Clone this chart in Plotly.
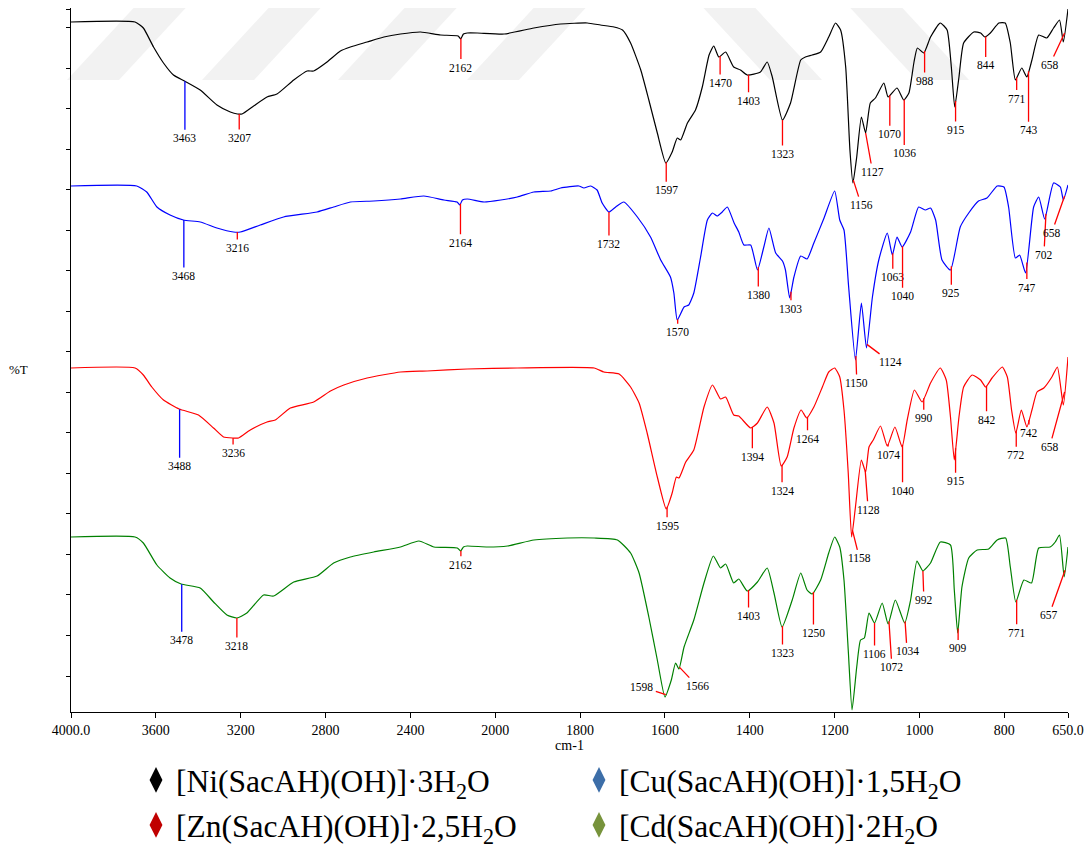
import numpy as np
import plotly.graph_objects as go

# ---------------- data: (wavenumber cm-1, offset %T in arbitrary units) ----------------
ni_spec = [(4000,690),(3698,690),(3659,684),(3611,665),(3564,649),(3517,637),(3465,631),(3391,622),
           (3312,607),(3249,600),(3215,598),(3194,598),(3139,606),(3076,615),(3029,618),(2950,632),
           (2887,641),(2856,641),(2793,650),(2730,661),(2683,665),(2604,670),(2525,675),(2447,678),
           (2352,680),(2258,677),(2175,676),(2163,673),(2150,678),(2132,679),(2085,679),(1979,678),
           (1909,684),(1846,688),(1783,689),(1752,687),(1720,685),(1700,682),(1681,669),(1657,642),
           (1638,612),(1618,579),(1598,549),(1583,560),(1571,574),(1563,572),(1547,589),(1528,602),
           (1512,625),(1496,657),(1485,666),(1473,655),(1457,660),(1438,645),(1422,642),(1406,637),
           (1375,640),(1359,650),(1347,635),(1323,592),(1304,609),(1280,652),(1269,655),(1253,657),
           (1233,660),(1214,675),(1198,689),(1186,682),(1174,645),(1164,562),(1157,529),(1148,555),
           (1137,595),(1127,579),(1116,609),(1104,614),(1084,629),(1074,615),(1053,624),(1037,612),
           (1025,619),(1013,650),(1005,664),(990,659),(974,675),(951,689),(935,682),(925,645),
           (917,605),(907,635),(896,669),(872,680),(856,679),(846,675),(833,679),(813,689),
           (798,689),(786,669),(774,632),(759,644),(747,635),(735,652),(719,677),(700,674),
           (684,684),(670,692),(661,670),(650,703)]

cu_spec = [(4000,526),(3690,526),(3643,520),(3595,505),(3533,497),(3470,492),(3391,490),(3312,484),
           (3234,480),(3202,480),(3108,487),(2998,495),(2840,500),(2762,505),(2683,510),(2573,511),
           (2447,513),(2337,516),(2242,512),(2180,510),(2167,507),(2155,512),(2132,513),(2053,510),
           (1987,512),(1948,515),(1909,520),(1869,521),(1846,524),(1803,526),(1791,524),(1775,526),
           (1760,522),(1748,509),(1732,500),(1716,505),(1697,510),(1665,495),(1634,475),(1610,452),
           (1587,435),(1579,419),(1571,392),(1555,405),(1544,407),(1532,419),(1516,455),(1500,492),
           (1488,499),(1477,496),(1465,500),(1453,505),(1437,489),(1426,480),(1414,467),(1398,467),
           (1382,442),(1367,465),(1355,484),(1339,459),(1323,451),(1316,442),(1306,414),(1296,435),
           (1280,456),(1265,453),(1249,469),(1225,494),(1200,521),(1188,492),(1178,482),(1167,425),
           (1151,352),(1137,409),(1125,364),(1111,415),(1096,452),(1076,479),(1064,457),(1053,475),
           (1041,465),(1021,480),(1002,505),(986,502),(974,504),(962,492),(947,452),(927,442),
           (904,485),(884,499),(861,511),(841,514),(817,526),(801,525),(790,505),(774,454),
           (764,457),(750,439),(731,505),(719,515),(705,493),(684,529),(668,525),(661,512),(650,527)]

zn_spec = [(4000,344),(3698,344),(3659,337),(3619,325),(3564,312),(3490,303),(3399,297),(3328,284),
           (3281,275),(3236,274),(3210,274),(3155,282),(3076,290),(3037,292),(2966,304),(2856,310),
           (2777,321),(2714,327),(2604,334),(2447,340),(2321,341),(2132,343),(1948,344),(1767,344),
           (1744,340),(1708,338),(1681,325),(1661,309),(1642,279),(1618,235),(1597,203),(1583,219),
           (1573,235),(1567,234),(1551,250),(1532,262),(1508,305),(1488,327),(1469,313),(1457,315),
           (1438,297),(1426,296),(1398,284),(1382,289),(1359,305),(1343,289),(1326,246),(1312,255),
           (1296,284),(1279,302),(1266,294),(1249,305),(1229,325),(1214,340),(1200,344),(1188,335),
           (1178,302),(1168,239),(1160,175),(1151,205),(1137,252),(1127,240),(1119,265),(1109,272),
           (1092,286),(1076,266),(1058,285),(1041,265),(1029,292),(1012,322),(994,310),(974,329),
           (951,344),(937,332),(927,295),(918,252),(907,295),(896,325),(876,337),(856,332),
           (844,325),(829,334),(805,345),(793,335),(783,302),(773,279),(760,302),(747,285),
           (735,302),(723,320),(707,324),(688,335),(675,345),(661,307),(650,355)]

cd_spec = [(4000,175),(3698,175),(3659,169),(3595,147),(3533,134),(3481,128),(3391,124),(3328,110),
           (3265,97),(3218,94),(3171,99),(3092,117),(3045,116),(2950,130),(2840,136),(2762,149),
           (2683,155),(2573,160),(2447,165),(2360,171),(2289,165),(2179,164),(2163,161),(2150,165),
           (2132,166),(2037,165),(1971,166),(1909,172),(1830,174),(1767,174),(1712,172),(1681,159),
           (1661,139),(1638,95),(1618,52),(1600,15),(1585,32),(1575,49),(1567,43),(1555,65),
           (1532,92),(1508,129),(1486,156),(1469,144),(1457,148),(1438,129),(1426,133),(1406,121),
           (1382,130),(1359,144),(1343,119),(1324,85),(1300,112),(1280,139),(1265,122),(1253,118),
           (1233,132),(1214,159),(1200,175),(1188,165),(1178,132),(1168,62),(1159,2),(1148,45),
           (1139,72),(1130,74),(1119,99),(1106,89),(1088,109),(1074,88),(1057,112),(1035,89),
           (1021,112),(1006,151),(992,141),(974,149),(951,170),(927,167),(918,122),(910,79),
           (900,125),(884,154),(864,162),(837,163),(817,172),(797,174),(786,145),(773,110),
           (754,132),(736,129),(719,164),(692,165),(680,170),(670,177),(659,135),(650,165)]

# labelled peaks (cm-1)
ni_peaks = [3463, 3207, 2162, 1597, 1470, 1403, 1323, 1156, 1127, 1070, 1036, 988, 915, 844, 771, 743, 658]
cu_peaks = [3468, 3216, 2164, 1732, 1570, 1380, 1303, 1150, 1124, 1063, 1040, 925, 747, 702, 658]
zn_peaks = [3488, 3236, 1595, 1394, 1324, 1264, 1158, 1128, 1074, 1040, 990, 915, 842, 772, 742, 658]
cd_peaks = [3478, 3218, 2162, 1598, 1566, 1403, 1323, 1250, 1106, 1072, 1034, 992, 909, 771, 657]

names = ["[Ni(SacAH)(OH)]·3H<sub>2</sub>O", "[Cu(SacAH)(OH)]·1,5H<sub>2</sub>O",
         "[Zn(SacAH)(OH)]·2,5H<sub>2</sub>O", "[Cd(SacAH)(OH)]·2H<sub>2</sub>O"]

x_ticks = [4000, 3600, 3200, 2800, 2400, 2000, 1800, 1600, 1400, 1200, 1000, 800, 650]
x_ticktext = ["4000.0", "3600", "3200", "2800", "2400", "2000", "1800", "1600", "1400",
              "1200", "1000", "800", "650.0"]

# ---------------- styling / layout (label offsets in px: dx, dy, line colour) ----------------
BLUE_L, RED_L = "#0000FF", "#FF0000"
label_style = {
    "ni": {3463: (0, 57, BLUE_L), 3207: (0, 24, RED_L), 2162: (0, 29, RED_L), 1597: (0, 28, RED_L),
           1470: (0, 27, RED_L), 1403: (0, 26, RED_L), 1323: (0, 34, RED_L), 1156: (8, 25, RED_L),
           1127: (7, 39, RED_L), 1070: (0, 39, RED_L), 1036: (0, 54, RED_L), 988: (0, 30, RED_L),
           915: (0, 29, RED_L), 844: (0, 29, RED_L), 771: (0, 21, RED_L), 743: (0, 59, RED_L),
           658: (-15, 32, RED_L)},
    "cu": {3468: (0, 56, BLUE_L), 3216: (0, 16, RED_L), 2164: (0, 39, RED_L), 1732: (0, 32, RED_L),
           1570: (0, 13, RED_L), 1380: (0, 28, RED_L), 1303: (0, 17, RED_L), 1150: (1, 27, RED_L),
           1124: (24, 18, RED_L), 1063: (0, 24, RED_L), 1040: (0, 50, RED_L), 925: (0, 27, RED_L),
           747: (0, 25, RED_L), 702: (-2, 41, RED_L), 658: (-13, 37, RED_L)},
    "zn": {3488: (0, 57, BLUE_L), 3236: (0, 15, RED_L), 1595: (0, 19, RED_L), 1394: (0, 30, RED_L),
           1324: (0, 26, RED_L), 1264: (0, 22, RED_L), 1158: (7, 28, RED_L), 1128: (3, 39, RED_L),
           1074: (0, 11, RED_L), 1040: (0, 46, RED_L), 990: (0, 20, RED_L), 915: (0, 33, RED_L),
           842: (0, 34, RED_L), 772: (0, 24, RED_L), 742: (0, 13, RED_L), 658: (-15, 55, RED_L)},
    "cd": {3478: (0, 56, BLUE_L), 3218: (0, 28, RED_L), 2162: (0, 14, RED_L), 1598: (-24, -8, RED_L),
           1566: (18, 19, RED_L), 1403: (0, 26, RED_L), 1323: (0, 27, RED_L), 1250: (0, 41, RED_L),
           1106: (0, 31, RED_L), 1072: (3, 46, RED_L), 1034: (2, 30, RED_L), 992: (1, 29, RED_L),
           909: (0, 20, RED_L), 771: (0, 33, RED_L), 657: (-16, 45, RED_L)},
}

line_colors = ["#000000", "#0000FF", "#FF0000", "#008000"]
legend_colors = ["#000000", "#3D6EA8", "#C00000", "#77933C"]
legend_ids = ["legend", "legend", "legend2", "legend2"]
SERIF = "Liberation Serif, Times New Roman, serif"

FIG_W, FIG_H = 1084, 841   # page body keeps an 8 px margin inside the 1092x849 window
M_L, M_R, M_T, M_B = 63, 24, 0, 137
PLOT_W, PLOT_H = FIG_W - M_L - M_R, FIG_H - M_T - M_B

# faint diagonal watermark bands in the top strip (page pixels: x at bottom edge, direction)
WM_BANDS = [(67, 1), (202, 1), (338, 1), (467, 1), (770, -1), (917, -1)]
WM_WIDTH, WM_SHIFT, WM_BOTTOM = 52, 74, 80


def to_pos(w):
    """Piece-wise linear wavenumber scale (2 cm-1 per unit above 2000, 1 cm-1 per unit below)."""
    w = np.asarray(w, dtype=float)
    return np.where(w >= 2000, (4000 - w) / 2.0, 1000 + (2000 - w))


def page_to_paper(px, py):
    return (px - 8 - M_L) / PLOT_W, 1 - (py - 8 - M_T) / PLOT_H


fig = go.Figure()
series = [("ni", ni_spec, ni_peaks), ("cu", cu_spec, cu_peaks),
          ("zn", zn_spec, zn_peaks), ("cd", cd_spec, cd_peaks)]

shapes = []
for x0, d in WM_BANDS:
    pts = [(x0, WM_BOTTOM), (x0 + WM_WIDTH, WM_BOTTOM),
           (x0 + WM_WIDTH + d * WM_SHIFT, 0), (x0 + d * WM_SHIFT, 0)]
    pp = [page_to_paper(a, b) for a, b in pts]
    path = "M " + " L ".join(f"{a:.4f},{b:.4f}" for a, b in pp) + " Z"
    shapes.append(dict(type="path", path=path, xref="paper", yref="paper",
                       fillcolor="#F2F2F2", line=dict(width=0), layer="below"))

annotations = []
for i, (key, spec, peaks) in enumerate(series):
    wn = np.array([p[0] for p in spec], dtype=float)
    tr = np.array([p[1] for p in spec], dtype=float)
    fig.add_trace(go.Scatter(x=to_pos(wn), y=tr, mode="lines",
                             line=dict(color=line_colors[i], width=1.2, shape="spline", smoothing=0.5),
                             showlegend=False, hoverinfo="skip"))
    for pk in peaks:
        dx, dy, col = label_style[key][pk]
        yv = float(np.interp(pk, wn[::-1], tr[::-1]))
        annotations.append(dict(x=float(to_pos(pk)), y=yv, xref="x", yref="y",
                                text=str(pk), showarrow=True, arrowhead=0, arrowwidth=1.3,
                                arrowcolor=col, ax=dx, ay=dy, borderpad=2,
                                font=dict(family=SERIF, size=11.5, color="#000000")))

# legend entries (two rows, two columns)
for i, nm in enumerate(names):
    fig.add_trace(go.Scatter(x=[None], y=[None], mode="markers", name=nm, legend=legend_ids[i],
                             marker=dict(symbol="diamond-tall", size=16, color=legend_colors[i],
                                         line=dict(width=1.5, color=legend_colors[i]))))

annotations.append(dict(x=-0.053, y=0.487, xref="paper", yref="paper", text="%T",
                        xanchor="center", yanchor="middle", showarrow=False,
                        font=dict(family=SERIF, size=13, color="#000000")))

legend_common = dict(orientation="h", xref="container", yref="container",
                     x=128 / FIG_W, xanchor="left", yanchor="top",
                     entrywidth=398, entrywidthmode="pixels",
                     font=dict(family=SERIF, size=31.5, color="#000000"),
                     bgcolor="rgba(0,0,0,0)", traceorder="normal")

fig.update_layout(
    width=FIG_W, height=FIG_H,
    margin=dict(l=M_L, r=M_R, t=M_T, b=M_B),
    paper_bgcolor="white", plot_bgcolor="white",
    annotations=annotations, shapes=shapes,
    showlegend=True,
    legend=dict(legend_common, y=1 - 745 / FIG_H),
    legend2=dict(legend_common, y=1 - 790 / FIG_H),
)

fig.update_xaxes(range=[0, float(to_pos(650))], tickvals=to_pos(x_ticks), ticktext=x_ticktext,
                 showline=True, linecolor="#000000", linewidth=1, ticks="outside", ticklen=5,
                 tickcolor="#000000", showgrid=False, zeroline=False,
                 tickfont=dict(family=SERIF, size=14, color="#000000"),
                 title=dict(text="cm-1", font=dict(family=SERIF, size=14, color="#000000"), standoff=4))

y_top = 704
fig.update_yaxes(range=[0, y_top], tickvals=list(np.arange(36, 700, 40.51)) + [y_top - 1],
                 showticklabels=False, showline=True, linecolor="#000000", linewidth=1,
                 ticks="outside", ticklen=4, tickcolor="#000000", showgrid=False, zeroline=False)

fig.write_html("out.html")
